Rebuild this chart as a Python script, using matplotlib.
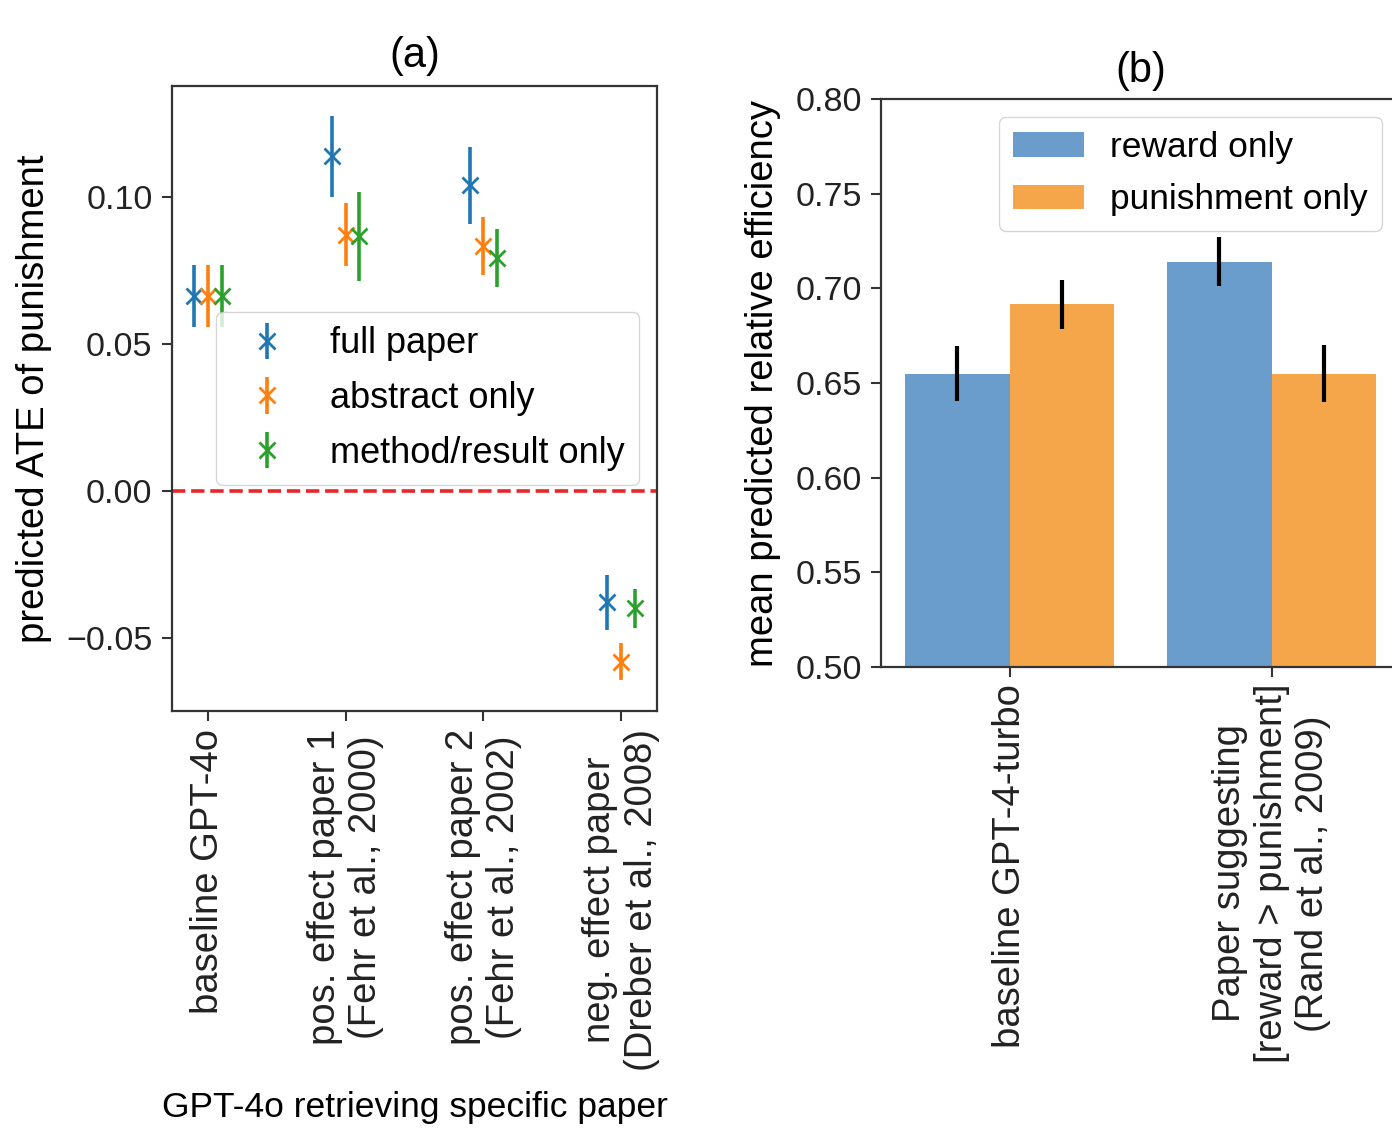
import numpy as np
import matplotlib
matplotlib.use("Agg")
import matplotlib.pyplot as plt

plt.rcParams['font.family'] = ['Liberation Sans', 'DejaVu Sans']
plt.rcParams['axes.edgecolor'] = '#333333'
plt.rcParams['axes.linewidth'] = 1.6
plt.rcParams['xtick.major.size'] = 7
plt.rcParams['ytick.major.size'] = 7
plt.rcParams['xtick.major.width'] = 1.5
plt.rcParams['ytick.major.width'] = 1.5
plt.rcParams['xtick.color'] = '#333333'
plt.rcParams['ytick.color'] = '#333333'
plt.rcParams['xtick.labelcolor'] = '#222222'
plt.rcParams['ytick.labelcolor'] = '#222222'

# (a) predicted ATE of punishment per paper condition
papers = ["baseline GPT-4o",
          "pos. effect paper 1\n(Fehr et al., 2000)",
          "pos. effect paper 2\n(Fehr et al., 2002)",
          "neg. effect paper\n(Dreber et al., 2008)"]
full_paper = [0.0665, 0.1140, 0.1041, -0.0378]
full_paper_err = [0.0105, 0.0138, 0.0131, 0.0094]
abstract_only = [0.0665, 0.0872, 0.0833, -0.0580]
abstract_only_err = [0.0105, 0.0107, 0.0099, 0.0063]
method_only = [0.0665, 0.0867, 0.0793, -0.0399]
method_only_err = [0.0105, 0.0151, 0.0099, 0.0067]

# (b) mean predicted relative efficiency
conditions = ["baseline GPT-4-turbo",
              "Paper suggesting\n[reward > punishment]\n(Rand et al., 2009)"]
reward_only = [0.655, 0.714]
reward_only_err = [0.0146, 0.013]
punishment_only = [0.6915, 0.655]
punishment_only_err = [0.0128, 0.015]

fig = plt.figure(figsize=(13.92, 11.34), dpi=100)

# ---- panel (a)
ax1 = fig.add_axes([0.1236, 0.373, 0.3484, 0.551])
x = np.arange(len(papers))
series = [(full_paper, full_paper_err, '#1f77b4', 'full paper', -0.1),
          (abstract_only, abstract_only_err, '#ff7f0e', 'abstract only', 0.0),
          (method_only, method_only_err, '#2ca02c', 'method/result only', 0.1)]
for vals, errs, col, lab, off in series:
    ax1.errorbar(x + off, vals, yerr=errs, fmt='x', color=col, ecolor=col,
                 elinewidth=2.6, markersize=11, markeredgewidth=2.0,
                 capsize=0, label=lab)
ax1.axhline(0, color='#e8262a', linestyle='--', linewidth=2.6)
ax1.set_ylim(-0.0748, 0.1378)
ax1.set_yticks([-0.05, 0.0, 0.05, 0.10])
ax1.set_yticklabels(['\u22120.05', '0.00', '0.05', '0.10'])
ax1.set_xticks(x)
ax1.set_xticklabels(papers, rotation=90, fontsize=27.5)
ax1.tick_params(axis='x', pad=6)
ax1.tick_params(axis='y', labelsize=24.5, pad=7)
ax1.set_ylabel("predicted ATE of punishment", fontsize=27.5, labelpad=10)
ax1.set_xlabel("GPT-4o retrieving specific paper", fontsize=25.5, labelpad=14)
ax1.set_title("(a)", fontsize=30, pad=14)
ax1.legend(loc='center right', fontsize=26, handlelength=2.0,
           handletextpad=0.75, labelspacing=0.55, borderaxespad=0.5)

# ---- panel (b)
ax2 = fig.add_axes([0.633, 0.4118, 0.3728, 0.5009])
xb = np.arange(len(conditions))
w = 0.4
ax2.bar(xb - w / 2, reward_only, w, yerr=reward_only_err, color='#6a9dcc',
        error_kw=dict(elinewidth=3, ecolor='black', capsize=0),
        label='reward only')
ax2.bar(xb + w / 2, punishment_only, w, yerr=punishment_only_err,
        color='#f5a54a', error_kw=dict(elinewidth=3, ecolor='black', capsize=0),
        label='punishment only')
ax2.set_ylim(0.5, 0.8)
ax2.set_yticks([0.50, 0.55, 0.60, 0.65, 0.70, 0.75, 0.80])
ax2.set_yticklabels(['0.50', '0.55', '0.60', '0.65', '0.70', '0.75', '0.80'])
ax2.set_xticks(xb)
ax2.set_xticklabels(conditions, rotation=90, fontsize=27.5)
ax2.tick_params(axis='x', pad=5)
ax2.tick_params(axis='y', labelsize=24.5, pad=7)
ax2.set_ylabel("mean predicted relative efficiency", fontsize=27.5, labelpad=10)
ax2.set_title("(b)", fontsize=30, pad=12)
ax2.legend(loc='upper right', fontsize=25.5, handlelength=2.0,
           handletextpad=0.75, labelspacing=0.55, borderaxespad=0.5)

fig.savefig("out.png", dpi=100, facecolor='white')
